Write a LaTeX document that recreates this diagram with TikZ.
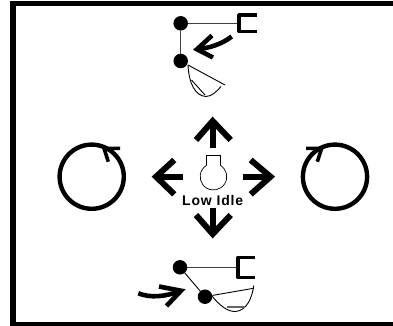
\documentclass[tikz,border=0pt]{standalone}
\usepackage{fontspec}
\setmainfont{Liberation Sans}
\tikzset{
  pivot/.style={circle,fill=black,inner sep=0pt,minimum size=14.5pt},
  bigarrow/.style={line width=6pt,line cap=butt,line join=miter},
  midarrow/.style={line width=4.6pt,line join=miter},
  thin link/.style={line width=1.1pt,black!75},
  bucket/.style={line width=0.9pt},
  cap shape/.style={line width=3.6pt,line join=round},
  ring/.style={line width=4.4pt},
  rotbarb/.style={line width=3.6pt}
}
\begin{document}
\begin{tikzpicture}[x=1pt,y=-1pt]
\useasboundingbox (0,0) rectangle (393,326);
\fill[black] (10,1) rectangle (393,6.5);
\fill[black] (10,1) rectangle (16,326);
\fill[black] (10,322) rectangle (393,326);
% top machine
\node[pivot] (a) at (180.7,23.3) {};
\node[pivot] (b) at (180.7,61) {};
\coordinate (c) at (238,23.3);
\draw[thin link] (a) -- (c);
\draw[thin link] (a) -- (b);
\draw[cap shape] (257,15) -- (239,15) -- (239,31.5) -- (257,31.5);
\draw[midarrow] (231.7,36.5) .. controls (222,44) and (210,48) .. (197,49.3);
\draw[midarrow] (212,35.5) -- (197,49.3) -- (213,57.5);
\draw[bucket] (188,65) -- (225,85);
\draw[bucket] (188,65) .. controls (189,85) and (196,96) .. (206,96.5) .. controls (212,96.5) and (217,91) .. (221,86.5);
\draw[bucket] (191.5,80) -- (205,95);
% bottom machine
\node[pivot] (d) at (180,267.3) {};
\node[pivot] (e) at (205,296.7) {};
\coordinate (f) at (238,267.3);
\draw[thin link] (d) -- (f);
\draw[bucket] (d) -- (e);
\draw[cap shape] (255,257.5) -- (238,257.5) -- (238,277.5) -- (255,277.5);
\draw[bucket] (e) -- (253.5,288.3);
\draw[bucket] (211,295) .. controls (220,306) and (228,312) .. (236,311.5) .. controls (247,310) and (252,298) .. (253.8,285.5);
\draw[line width=1.1pt,black!60] (227,307) -- (245,307);
\draw[midarrow] (138.3,293.3) .. controls (150,298) and (165,297) .. (180,291);
\draw[midarrow] (159,286.5) -- (181,290.7) -- (166.5,306);
% centre arrows
\draw[bigarrow] (212.7,148) -- (212.7,122);
\draw[bigarrow] (196,140) -- (212.7,121) -- (230.7,140);
\draw[bigarrow] (183.3,176.7) -- (157,176.7);
\draw[bigarrow] (174.3,160) -- (156,176.7) -- (174.3,194.3);
\draw[bigarrow] (243.3,176.7) -- (269,176.7);
\draw[bigarrow] (250.7,160) -- (270.5,176.7) -- (250.7,194.3);
\draw[bigarrow] (212.7,208) -- (212.7,233);
\draw[bigarrow] (196,215) -- (212.7,234) -- (230.7,215);
% key symbol
\draw[line width=0.7pt] (206.5,165.4) -- (206.5,155.5) -- (220.5,155.5) -- (220.5,165.4)
  arc[start angle=-58,end angle=238,radius=13.3];
\node[font=\bfseries\fontsize{14}{16}\selectfont\addfontfeature{LetterSpace=6},inner sep=0pt] (t) at (212.7,200) {Low Idle};
% rotation rings
\node[circle,draw,ring,minimum size=64.2pt,inner sep=0pt] (l) at (91.7,176.7) {};
\node[circle,draw,ring,minimum size=64.2pt,inner sep=0pt] (r) at (335,176.7) {};
\draw[rotbarb] (120,148.3) -- (104,148.3) -- (108.3,161.7);
\draw[rotbarb] (306,148.3) -- (321.7,148.3) -- (317.3,161.7);
\end{tikzpicture}
\end{document}
